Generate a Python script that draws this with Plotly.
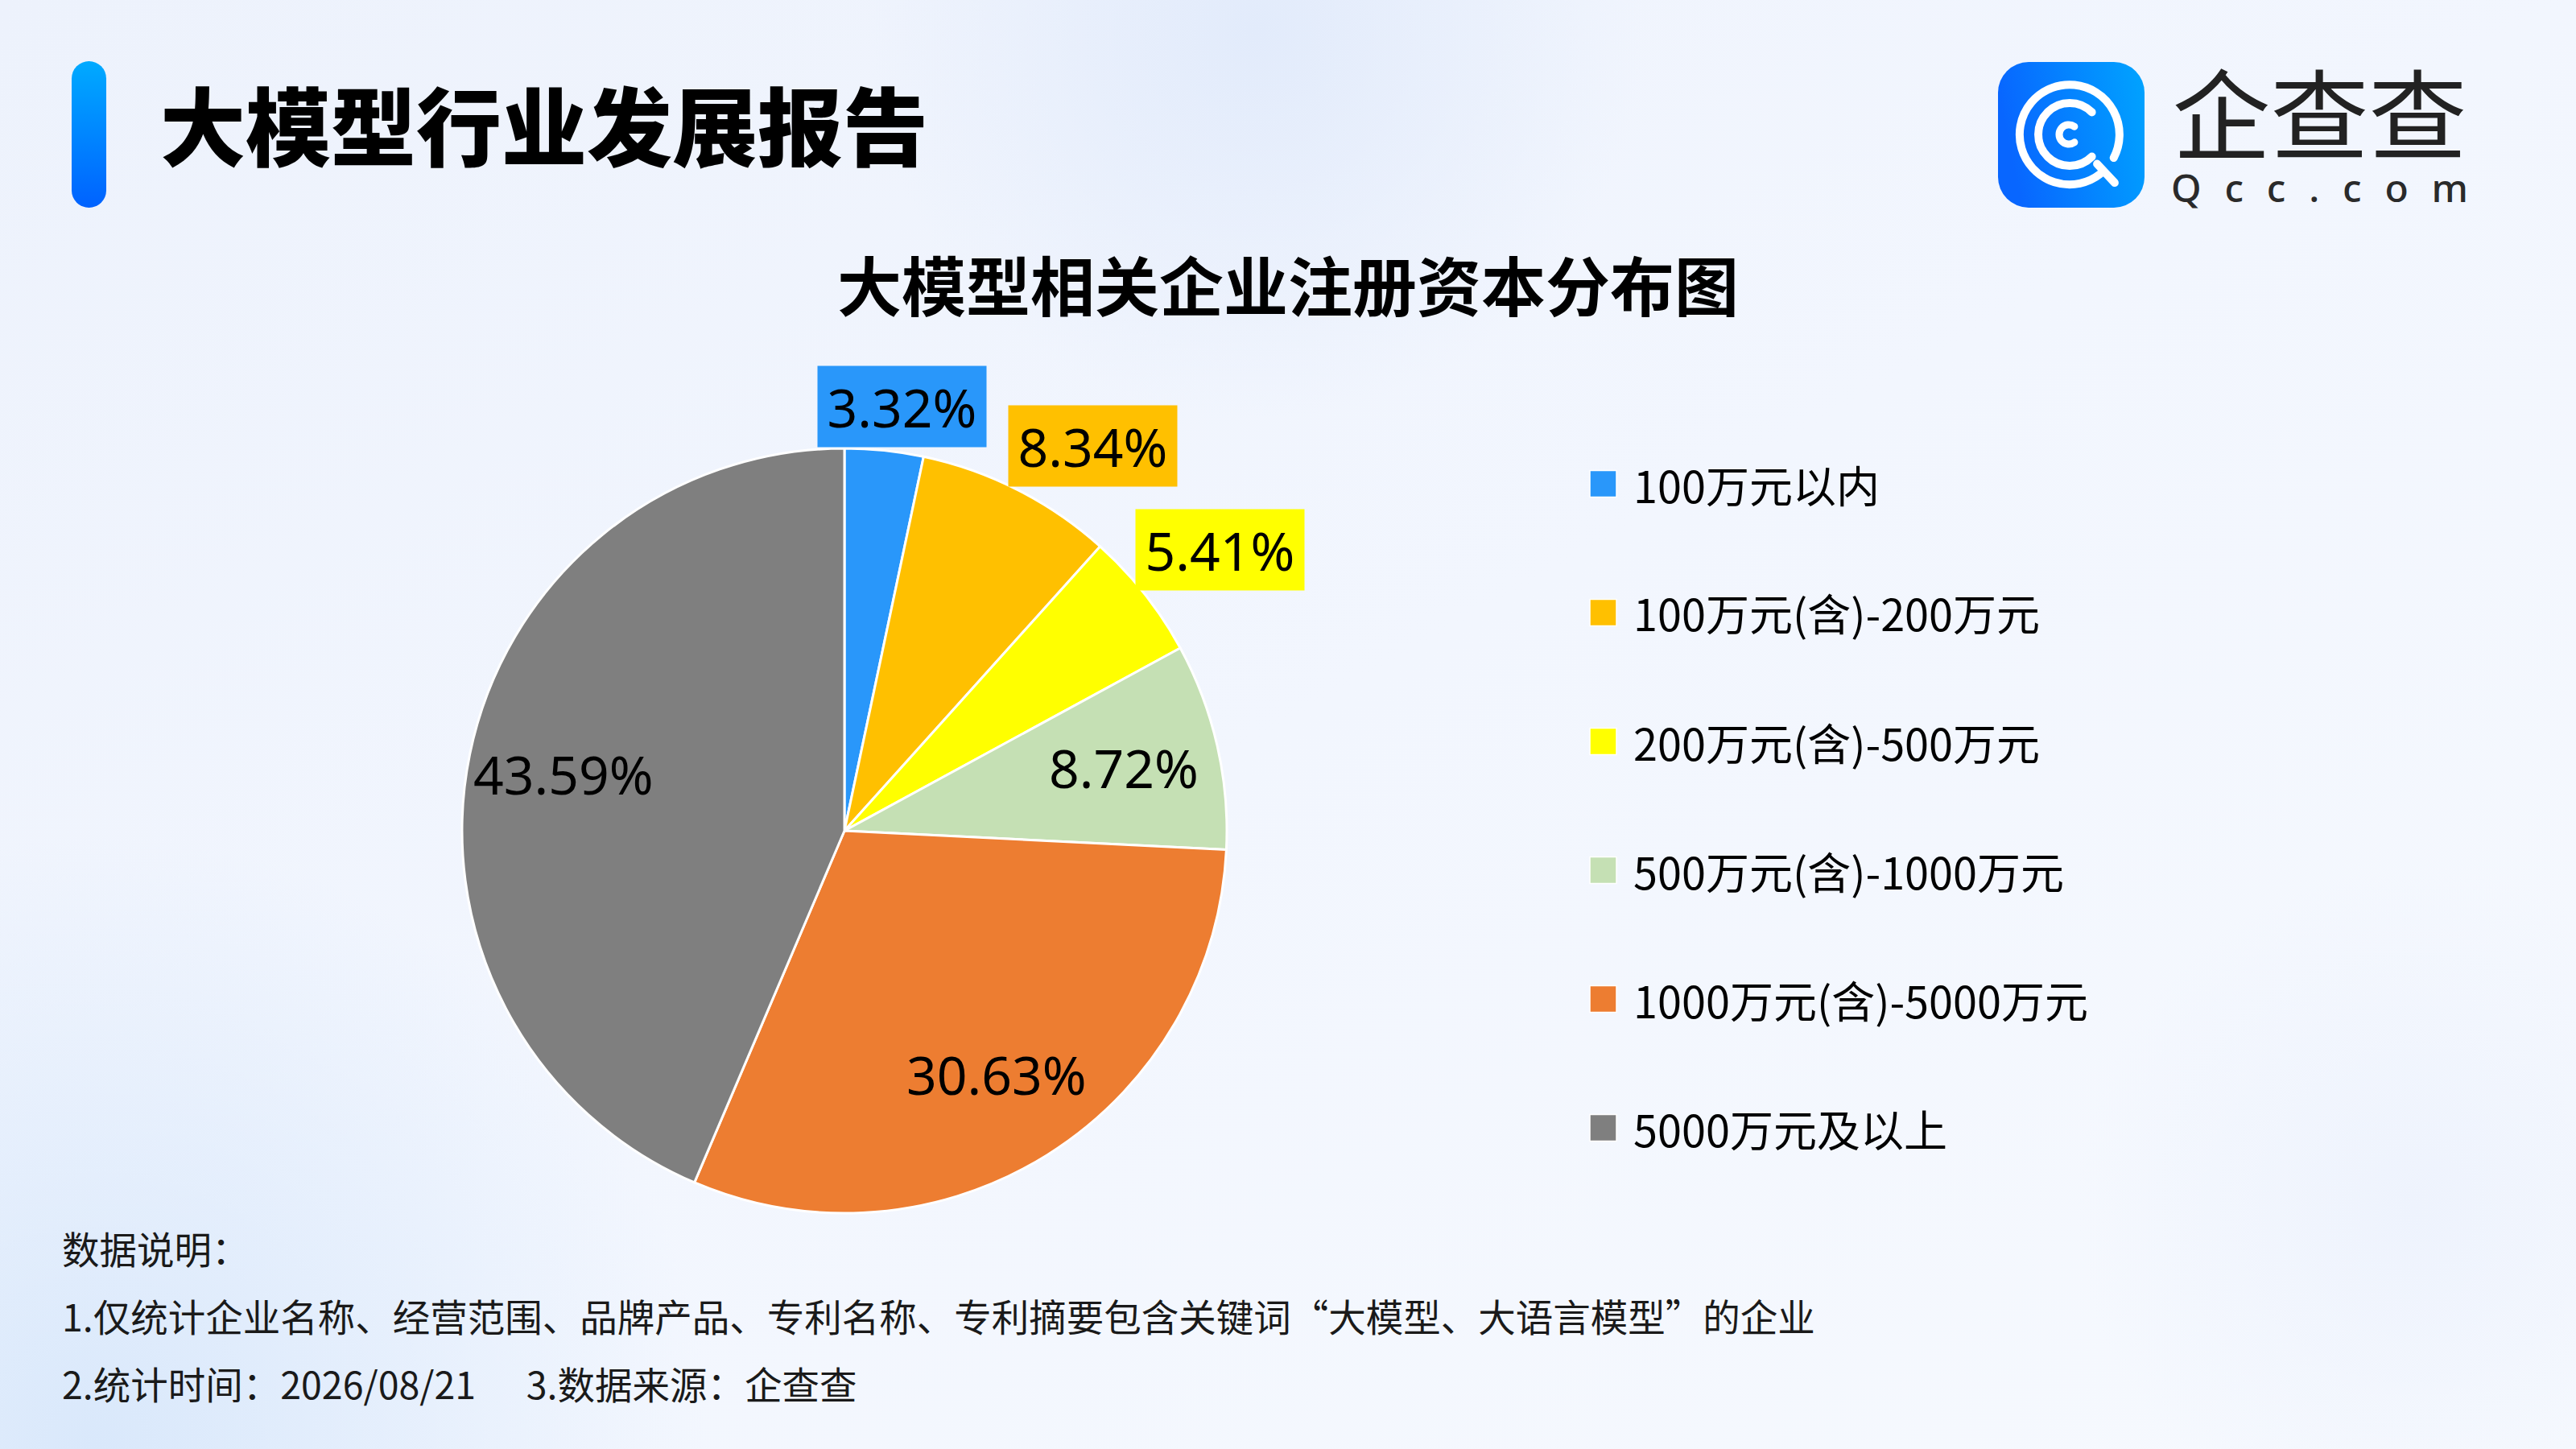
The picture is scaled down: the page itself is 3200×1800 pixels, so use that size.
import math
import base64
import plotly.graph_objects as go

# ---------------- data ----------------
categories = [
    "100万元以内",
    "100万元(含)-200万元",
    "200万元(含)-500万元",
    "500万元(含)-1000万元",
    "1000万元(含)-5000万元",
    "5000万元及以上",
]
shares = [3.32, 8.34, 5.41, 8.72, 30.63, 43.59]
slice_colors = ["#2997FA", "#FFC000", "#FFFF00", "#C5E0B4", "#ED7D31", "#7F7F7F"]
label_outside = [True, True, True, False, False, False]

page_title = "大模型行业发展报告"
chart_title = "大模型相关企业注册资本分布图"
brand_cn = "企查查"
brand_en = "Qcc.com"
notes = [
    "数据说明：",
    "1.仅统计企业名称、经营范围、品牌产品、专利名称、专利摘要包含关键词“大模型、大语言模型”的企业",
    "2.统计时间：2026/08/21\u00a0\u00a0\u00a0\u00a0\u00a0\u00a03.数据来源：企查查",
]

# ---------------- layout constants (pixels) ----------------
W, H = 3200, 1800
PIE_CX, PIE_CY, PIE_R = 1049, 1032, 475
INSIDE_LABEL_R = 0.75
CJK = "Noto Sans CJK SC"
NUM = "Noto Sans"


def px(x):
    return x / W


def py(y):
    return 1 - y / H


# ---------------- background / decoration (svg) ----------------
def arc_path(cx, cy, r, a0, a1):
    """clockwise arc (screen coords, degrees from +x)"""
    x0 = cx + r * math.cos(math.radians(a0))
    y0 = cy + r * math.sin(math.radians(a0))
    x1 = cx + r * math.cos(math.radians(a1))
    y1 = cy + r * math.sin(math.radians(a1))
    large = 1 if (a1 - a0) % 360 > 180 else 0
    return f"M{x0:.1f},{y0:.1f} A{r},{r} 0 {large} 1 {x1:.1f},{y1:.1f}"


icx, icy = 2571, 167
tail_a = math.radians(47)
svg = f"""<svg xmlns='http://www.w3.org/2000/svg' width='{W}' height='{H}' viewBox='0 0 {W} {H}' preserveAspectRatio='none'>
<defs>
<linearGradient id='bg' x1='0' y1='0' x2='1' y2='1'>
<stop offset='0' stop-color='#EDF2FC'/><stop offset='0.5' stop-color='#F2F6FE'/><stop offset='1' stop-color='#F6F9FE'/></linearGradient>
<radialGradient id='b1' cx='1560' cy='40' r='480' gradientUnits='userSpaceOnUse'>
<stop offset='0' stop-color='#E2EBFB'/><stop offset='1' stop-color='#E2EBFB' stop-opacity='0'/></radialGradient>
<radialGradient id='b2' cx='120' cy='1800' r='760' gradientUnits='userSpaceOnUse'>
<stop offset='0' stop-color='#D9E8FB'/><stop offset='1' stop-color='#D9E8FB' stop-opacity='0'/></radialGradient>
<radialGradient id='b3' cx='3000' cy='1500' r='420' gradientUnits='userSpaceOnUse'>
<stop offset='0' stop-color='#EEF3FD'/><stop offset='1' stop-color='#EEF3FD' stop-opacity='0'/></radialGradient>
<linearGradient id='bar' x1='0' y1='0' x2='0' y2='1'>
<stop offset='0' stop-color='#00AAFF'/><stop offset='1' stop-color='#0062FF'/></linearGradient>
<linearGradient id='logo' x1='0' y1='0.2' x2='1' y2='0'>
<stop offset='0' stop-color='#0866FF'/><stop offset='1' stop-color='#00A4FF'/></linearGradient>
</defs>
<rect width='{W}' height='{H}' fill='url(#bg)'/>
<rect width='{W}' height='{H}' fill='url(#b1)'/>
<rect width='{W}' height='{H}' fill='url(#b2)'/>
<rect width='{W}' height='{H}' fill='url(#b3)'/>
<rect x='89' y='76' width='43' height='182' rx='21.5' fill='url(#bar)'/>
<rect x='2482' y='77' width='182' height='181' rx='38' fill='url(#logo)'/>
<g fill='none' stroke='#FFFFFF' stroke-linecap='round'>
<path d='{arc_path(icx, icy, 62, 52, 388)}' stroke-width='10'/>
<path d='{arc_path(icx, icy, 39, 45, 315)}' stroke-width='10'/>
<path d='{arc_path(icx - 1, icy, 12, 55, 305)}' stroke-width='9'/>
<path d='M{icx + 50 * math.cos(tail_a):.1f},{icy + 50 * math.sin(tail_a):.1f} L{icx + 82 * math.cos(tail_a):.1f},{icy + 82 * math.sin(tail_a):.1f}' stroke-width='10'/>
</g>
</svg>"""
svg_uri = "data:image/svg+xml;base64," + base64.b64encode(svg.encode("utf-8")).decode("ascii")

# ---------------- pie ----------------
dom_x = [px(PIE_CX - PIE_R), px(PIE_CX + PIE_R)]
dom_y = [py(PIE_CY + PIE_R), py(PIE_CY - PIE_R)]

fig = go.Figure()
fig.add_trace(
    go.Pie(
        labels=categories,
        values=shares,
        sort=False,
        direction="clockwise",
        rotation=0,
        marker=dict(colors=slice_colors, line=dict(color="#FFFFFF", width=3)),
        textinfo="none",
        hovertemplate="%{label}: %{value:.2f}%<extra></extra>",
        domain=dict(x=dom_x, y=dom_y),
        showlegend=False,
    )
)

annotations = []
shapes = []

# data labels, placed from each slice's mid-angle
total = sum(shares)
cum = 0.0
for v, c, out in zip(shares, slice_colors, label_outside):
    mid = (cum + v / 2) / total * 2 * math.pi
    cum += v
    if out:
        ex = PIE_CX + PIE_R * math.sin(mid)
        ey = PIE_CY - PIE_R * math.cos(mid)
        anchor = "center" if math.sin(mid) < 0.25 else "left"
        annotations.append(
            dict(
                x=px(ex + (22 if anchor == "center" else -12)), y=py(ey - 4), xref="paper", yref="paper",
                xanchor=anchor, yanchor="bottom", showarrow=False,
                text=f"\u200a{v:.2f}%\u200a", font=dict(family=NUM, size=66, color="#000000"),
                bgcolor=c, borderpad=5,
            )
        )
    else:
        lx = PIE_CX + INSIDE_LABEL_R * PIE_R * math.sin(mid)
        ly = PIE_CY - INSIDE_LABEL_R * PIE_R * math.cos(mid)
        annotations.append(
            dict(
                x=px(lx), y=py(ly), xref="paper", yref="paper",
                xanchor="center", yanchor="middle", showarrow=False,
                text=f"{v:.2f}%", font=dict(family=NUM, size=66, color="#000000"),
            )
        )

# legend (custom, rows)
LEG_X, LEG_Y0, LEG_DY, SW = 1975, 601, 160, 33
for i, (cat, c) in enumerate(zip(categories, slice_colors)):
    yc = LEG_Y0 + i * LEG_DY
    shapes.append(
        dict(type="rect", xref="paper", yref="paper",
             x0=px(LEG_X), x1=px(LEG_X + SW), y0=py(yc + SW / 2), y1=py(yc - SW / 2),
             fillcolor=c, line=dict(color="#FFFFFF", width=1.5))
    )
    annotations.append(
        dict(x=px(2027), y=py(yc), xref="paper", yref="paper", xanchor="left", yanchor="middle",
             showarrow=False, text=cat, font=dict(family=CJK, size=54, color="#000000"))
    )

# titles
annotations.append(
    dict(x=px(197), y=py(152), xref="paper", yref="paper", xanchor="left", yanchor="middle",
         showarrow=False, text=page_title,
         font=dict(family=CJK, size=106, color="#000000", weight=900))
)
annotations.append(
    dict(x=0.5, y=py(351), xref="paper", yref="paper", xanchor="center", yanchor="middle",
         showarrow=False, text=chart_title,
         font=dict(family=CJK, size=80, color="#000000", weight=700))
)
# brand (one two-line text block: Chinese name over spaced web address)
brand_text = (
    f"<span style='font-family:\"{CJK}\";font-size:122px;font-weight:400;fill:#222222'>{brand_cn}</span>"
    "<br>"
    + "\u2002\u200a".join(brand_en)
)
annotations.append(
    dict(x=px(2881), y=py(156), xref="paper", yref="paper", xanchor="center", yanchor="middle",
         align="center", showarrow=False, text=brand_text,
         font=dict(family=NUM, size=48, color="#2A2A2A", weight=500))
)
# notes
for i, t in enumerate(notes):
    annotations.append(
        dict(x=px(75), y=py(1549 + i * 84), xref="paper", yref="paper", xanchor="left", yanchor="middle",
             showarrow=False, text=t, font=dict(family=CJK, size=46.5, color="#1A1A1A"))
    )

fig.update_layout(
    width=W,
    height=H,
    margin=dict(l=0, r=0, t=0, b=0),
    paper_bgcolor="#EFF4FD",
    plot_bgcolor="rgba(0,0,0,0)",
    images=[dict(source=svg_uri, xref="paper", yref="paper", x=0, y=1, sizex=1, sizey=1,
                 sizing="stretch", layer="below", xanchor="left", yanchor="top")],
    annotations=annotations,
    shapes=shapes,
    font=dict(family=CJK),
)

fig.write_html(
    "out.html",
    config={"displayModeBar": False},
    post_script="document.body.style.margin='0px';document.body.style.overflow='hidden';",
)
